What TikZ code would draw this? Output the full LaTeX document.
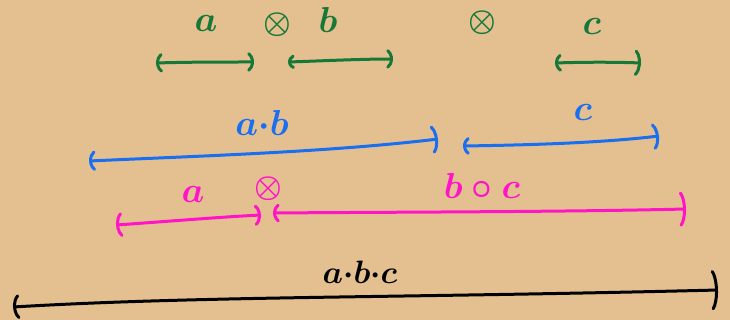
\documentclass[tikz,border=0pt]{standalone}
\usetikzlibrary{arrows.meta}
\definecolor{cork}{RGB}{228,192,145}
\definecolor{pgreen}{RGB}{22,120,55}
\definecolor{pblue}{RGB}{26,110,240}
\definecolor{pmag}{RGB}{255,20,200}
\newcommand{\hwtext}[1]{\scalebox{1.45}{$#1$}}
\newcommand{\hwsmall}[1]{\scalebox{1.3}{$#1$}}
\newcommand{\hwop}{\scalebox{1.25}{$\otimes$}}
\begin{document}
\begin{tikzpicture}[x=1pt,y=-1pt,
  brk/.style 2 args={line width=3pt, line cap=round,
    {Parenthesis[length=9pt,width=#1,round,line width=3pt]}-{Parenthesis[length=9pt,width=#2,round,line width=3pt]}},
  lbl/.style={font=\Huge\boldmath, inner sep=0pt}]
\fill[cork] (0,0) rectangle (730,320);
\useasboundingbox (0,0) rectangle (730,320);

% green row
\begin{scope}[pgreen]
\node[lbl, text=pgreen] (ga) at (206,23) {\hwtext{a}};
\node[lbl, text=pgreen] (gx1) at (277,25) {\hwop};
\node[lbl, text=pgreen] (gb) at (328,20) {\hwtext{b}};
\node[lbl, text=pgreen] (gx2) at (482,23) {\hwop};
\node[lbl, text=pgreen] (gc) at (592,26) {\hwtext{c}};
\coordinate (g1l) at (156,63); \coordinate (g1r) at (254,62);
\coordinate (g2l) at (288,62); \coordinate (g2r) at (393,59);
\coordinate (g3l) at (555,63); \coordinate (g3r) at (641,63);
\draw[brk={22pt}{22pt}] (g1l) .. controls (190,62) and (220,62) .. (g1r);
\draw[brk={16pt}{22pt}] (g2l) .. controls (320,61) and (360,59) .. (g2r);
\draw[brk={20pt}{30pt}] (g3l) .. controls (585,62) and (615,62) .. (g3r);
\end{scope}

% blue row
\begin{scope}[pblue]
\node[lbl, text=pblue] (bab) at (262,123) {\hwtext{a{\cdot}b}};
\node[lbl, text=pblue] (bc) at (583,112) {\hwtext{c}};
\coordinate (b1l) at (89,161); \coordinate (b1r) at (438,139);
\coordinate (b2l) at (463,146); \coordinate (b2r) at (659,136);
\draw[brk={23pt}{32pt}] (b1l) .. controls (200,156) and (330,152) .. (b1r);
\draw[brk={20pt}{30pt}] (b2l) .. controls (530,145) and (600,143) .. (b2r);
\end{scope}

% magenta row
\begin{scope}[pmag]
\node[lbl, text=pmag] (ma) at (193,194) {\hwtext{a}};
\node[lbl, text=pmag] (mx) at (268,189) {\hwop};
\node[lbl, text=pmag] (mbc) at (482,186) {\hwtext{b\circ c}};
\coordinate (m1l) at (116,225); \coordinate (m1r) at (261,215);
\coordinate (m2l) at (273,213); \coordinate (m2r) at (686,209);
\draw[brk={28pt}{24pt}] (m1l) .. controls (160,222) and (220,217) .. (m1r);
\draw[brk={21pt}{40pt}] (m2l) .. controls (400,212) and (560,212) .. (m2r);
\end{scope}

% black row
\node[lbl] (kabc) at (360,272) {\hwsmall{a{\cdot}b{\cdot}c}};
\coordinate (k1l) at (13,307); \coordinate (k1r) at (718,290);
\draw[brk={28pt}{46pt}] (k1l) .. controls (200,296) and (400,298) .. (k1r);
\end{tikzpicture}
\end{document}
